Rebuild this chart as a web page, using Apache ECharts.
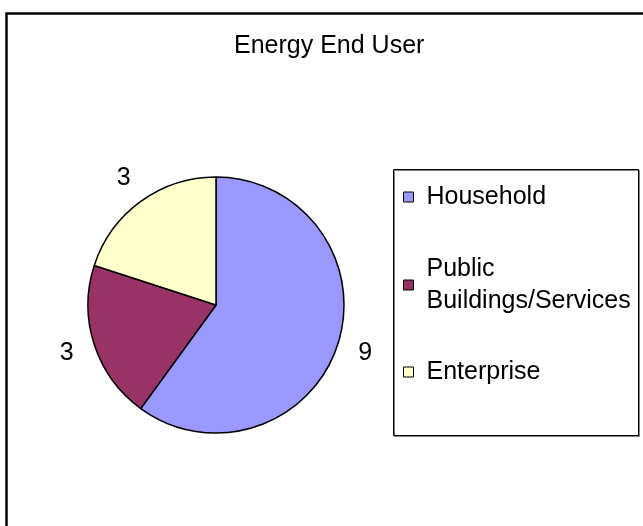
<!DOCTYPE html>
<html><head><meta charset="utf-8">
<script src="https://cdn.jsdelivr.net/npm/echarts@6/dist/echarts.min.js"></script>
<style>html,body{margin:0;padding:0;background:#fff}#c{width:643px;height:526px}</style>
</head><body><div id="c"></div>
<script>
const titleText = 'Energy End User';
const categories = ['Household', 'Public Buildings/Services', 'Enterprise'];
const values = [9, 3, 3];
const colors = ['#9999FF', '#993366', '#FFFFCC'];

const FONT = '"Liberation Sans", Arial, sans-serif';
const FS = 25;
const LH = 32;
const LABEL_OFFSET = 29;
const chart = echarts.init(document.getElementById('c'), null, {renderer: 'canvas'});
const legendTops = [181, 237, 356];
const legendPads = [[0, 0, 0, 8], [LH, 0, 0, 8], [0, 0, 0, 8]];

chart.setOption({
  animation: false,
  backgroundColor: '#fff',
  title: {
    text: titleText, left: 234, top: 34, padding: 0,
    textStyle: {fontFamily: FONT, fontSize: FS, fontWeight: 'normal', color: '#000'}
  },
  graphic: [
    {type: 'rect', silent: true, z: -10, shape: {x: 6.5, y: 13.5, width: 700, height: 600},
     style: {fill: null, stroke: '#000', lineWidth: 2.5}},
    {type: 'rect', silent: true, z: -5, shape: {x: 393.5, y: 169.5, width: 245, height: 266},
     style: {fill: '#fff', stroke: '#000', lineWidth: 1, shadowColor: '#808080', shadowOffsetX: 1, shadowOffsetY: 1, shadowBlur: 0}}
  ],
  legend: categories.map((c, i) => ({
    data: [c], orient: 'vertical', left: 403, top: legendTops[i], padding: 0,
    itemWidth: 10, itemHeight: 10, itemGap: 0, icon: 'rect',
    selectedMode: false,
    itemStyle: {borderColor: '#000', borderWidth: 1},
    formatter: n => n.replace('Public ', 'Public\n'),
    textStyle: {fontFamily: FONT, fontSize: FS, color: '#000', lineHeight: LH, padding: legendPads[i]}
  })),
  series: [{
    type: 'pie',
    center: [216, 305],
    radius: 128,
    startAngle: 90,
    clockwise: true,
    avoidLabelOverlap: false,
    data: categories.map((c, i) => ({name: c, value: values[i], itemStyle: {color: colors[i]}})),
    itemStyle: {borderColor: '#000', borderWidth: 1.5},
    label: {show: true, position: 'outside', formatter: '{c}', fontFamily: FONT, fontSize: FS, color: '#000'},
    labelLine: {show: true, length: 10, length2: 0, lineStyle: {opacity: 0, width: 0}},
    labelLayout: function (p) {
      const pts = p.labelLinePoints;
      if (!pts) return {};
      const dx = pts[1][0] - pts[0][0], dy = pts[1][1] - pts[0][1];
      const len = Math.sqrt(dx * dx + dy * dy) || 1;
      return {
        x: pts[0][0] + dx / len * LABEL_OFFSET,
        y: pts[0][1] + dy / len * LABEL_OFFSET,
        align: 'center', verticalAlign: 'middle'
      };
    },
    emphasis: {disabled: true}
  }]
});
</script>
</body></html>
